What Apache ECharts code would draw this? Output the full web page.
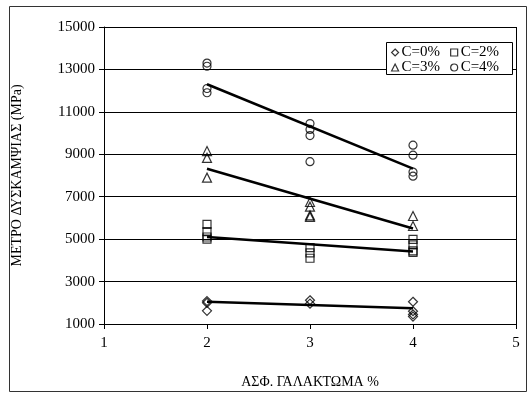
<!DOCTYPE html>
<html>
<head>
<meta charset="utf-8">
<script src="https://cdn.jsdelivr.net/npm/echarts@6/dist/echarts.min.js"></script>
<style>html,body{margin:0;padding:0;background:#fff}#c{width:532px;height:394px}</style>
</head>
<body>
<div id="c"></div>
<script>
var seriesNames = ['C=0%', 'C=2%', 'C=3%', 'C=4%'];
var c0 = [[2, 2080], [2, 2000], [2, 1620], [3, 2120], [3, 1960], [4, 2050], [4, 1600], [4, 1450], [4, 1350]];
var c2 = [[2, 5700], [2, 5350], [2, 5100], [2, 5000], [3, 4600], [3, 4350], [3, 4100], [4, 4990], [4, 4730], [4, 4450], [4, 4380]];
var c3 = [[2, 9150], [2, 8830], [2, 7900], [3, 6750], [3, 6530], [3, 6120], [3, 6050], [4, 6090], [4, 5620]];
var c4 = [[2, 13300], [2, 13150], [2, 12100], [2, 11900], [3, 10450], [3, 10170], [3, 9880], [3, 8650], [4, 9430], [4, 8960], [4, 8160], [4, 7970]];
var trend0 = [[2, 2050], [4, 1740]];
var trend2 = [[2, 5100], [4, 4420]];
var trend3 = [[2, 8320], [4, 5500]];
var trend4 = [[2, 12300], [4, 8320]];
var yTitle = 'ΜΕΤΡΟ ΔΥΣΚΑΜΨΙΑΣ (MPa)';
var xTitle = 'ΑΣΦ. ΓΑΛΑΚΤΩΜΑ %';

var FONT = '"Liberation Serif", "DejaVu Serif", serif';
var symbols = ['diamond', 'rect', 'triangle', 'circle'];
var sizes = [9, 8, 9, 8];
var scatterData = [c0, c2, c3, c4];
var trends = [trend0, trend2, trend3, trend4];

var series = [];
trends.forEach(function (t) {
  series.push({
    type: 'line', data: t, symbol: 'none', silent: true,
    lineStyle: { color: '#000', width: 2.5 }, z: 3
  });
});
scatterData.forEach(function (d, i) {
  series.push({
    name: seriesNames[i], type: 'scatter', data: d,
    symbol: symbols[i], symbolSize: sizes[i],
    itemStyle: { color: 'rgba(255,255,255,0)', borderColor: '#000', borderWidth: 1.2 },
    z: 4
  });
});

var legendCommon = {
  orient: 'horizontal', itemWidth: 7, itemHeight: 7, itemGap: 10,
  textStyle: { fontFamily: FONT, fontSize: 15, color: '#000', padding: [0, 0, 0, -2] },
  padding: 0, z: 10
};

var chart = echarts.init(document.getElementById('c'), null, { renderer: 'canvas' });
chart.setOption({
  animation: false,
  backgroundColor: '#fff',
  grid: { left: 104, right: 16, top: 27, bottom: 69 },
  graphic: [
    { type: 'rect', shape: { x: 9.5, y: 6.5, width: 517, height: 385 }, style: { fill: 'none', stroke: '#333', lineWidth: 1 }, z: 0 },
    { type: 'rect', shape: { x: 386.5, y: 42.5, width: 126, height: 32 }, style: { fill: '#fff', stroke: '#000', lineWidth: 1 }, z: 9 },
    { type: 'line', shape: { x1: 516.5, y1: 27, x2: 516.5, y2: 325 }, style: { stroke: '#000', lineWidth: 1 }, z: 2 }
  ],
  legend: [
    Object.assign({}, legendCommon, {
      left: 391, top: 45,
      data: [
        { name: seriesNames[0], icon: 'diamond', itemStyle: { color: '#fff', borderColor: '#000', borderWidth: 1.2 } },
        { name: seriesNames[1], icon: 'rect', itemStyle: { color: '#fff', borderColor: '#000', borderWidth: 1.2 } }
      ]
    }),
    Object.assign({}, legendCommon, {
      left: 391, top: 60,
      data: [
        { name: seriesNames[2], icon: 'triangle', itemStyle: { color: '#fff', borderColor: '#000', borderWidth: 1.2 } },
        { name: seriesNames[3], icon: 'circle', itemStyle: { color: '#fff', borderColor: '#000', borderWidth: 1.2 } }
      ]
    })
  ],
  xAxis: {
    type: 'value', min: 1, max: 5, interval: 1,
    name: xTitle, nameLocation: 'middle', nameGap: 51,
    nameTextStyle: { fontFamily: FONT, fontSize: 14, color: '#000' },
    axisLine: { show: true, lineStyle: { color: '#000', width: 1 } },
    axisTick: { show: true, inside: false, length: 5, lineStyle: { color: '#000' } },
    axisLabel: { fontFamily: FONT, fontSize: 15, color: '#000', margin: 12 },
    splitLine: { show: false }
  },
  yAxis: {
    type: 'value', min: 1000, max: 15000, interval: 2000,
    name: yTitle, nameLocation: 'middle', nameGap: 80, nameRotate: 90,
    nameTextStyle: { fontFamily: FONT, fontSize: 14, color: '#000' },
    axisLine: { show: true, lineStyle: { color: '#000', width: 1 } },
    axisTick: { show: true, inside: false, length: 5, lineStyle: { color: '#000' } },
    axisLabel: { fontFamily: FONT, fontSize: 15, color: '#000', margin: 9, formatter: function (v) { return String(v); } },
    splitLine: { show: true, lineStyle: { color: '#000', width: 1 } }
  },
  series: series
});
</script>
</body>
</html>
